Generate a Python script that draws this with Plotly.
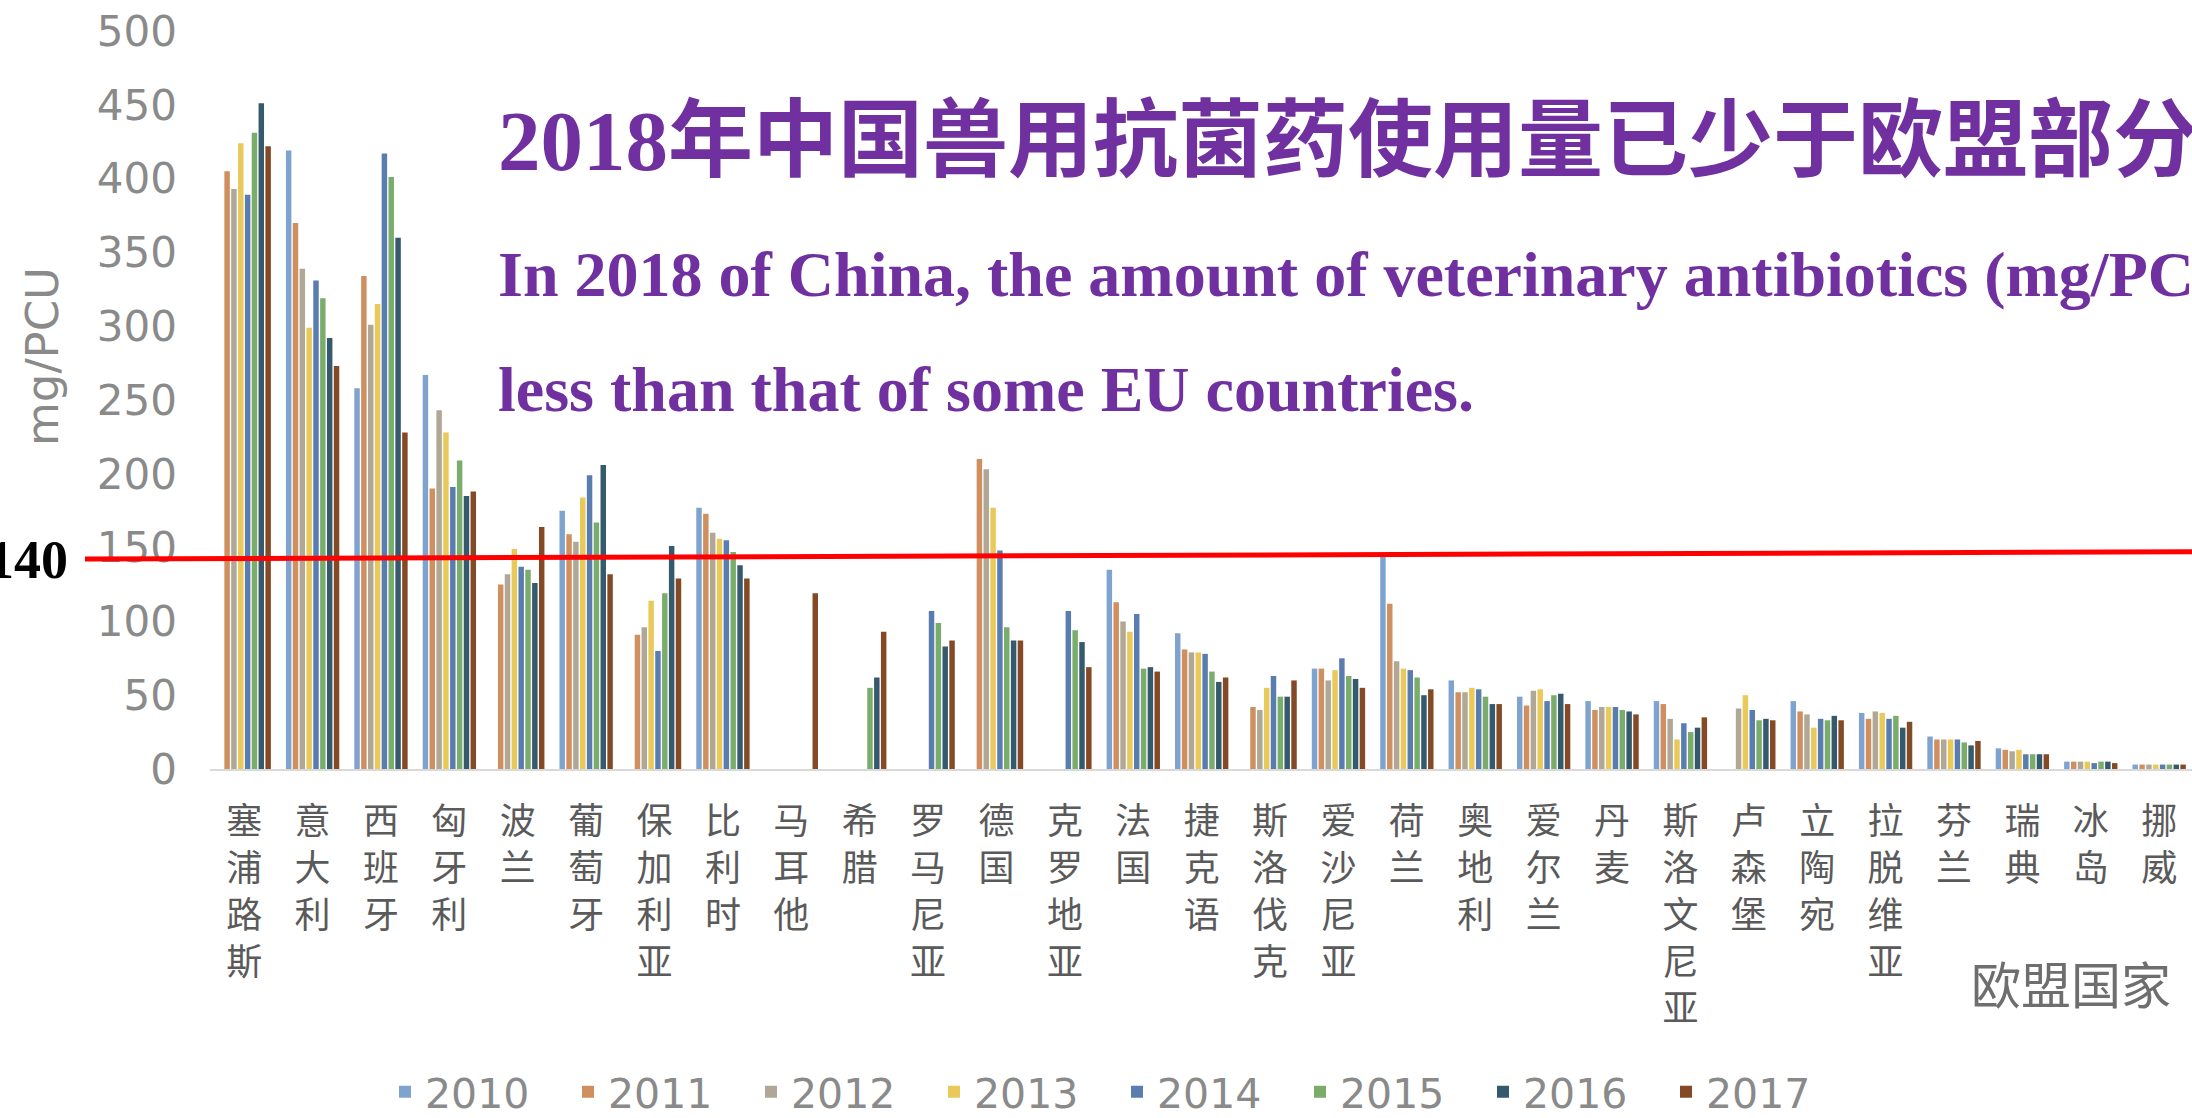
import plotly.graph_objects as go

countries = ["塞浦路斯", "意大利", "西班牙", "匈牙利", "波兰", "葡萄牙", "保加利亚", "比利时",
             "马耳他", "希腊", "罗马尼亚", "德国", "克罗地亚", "法国", "捷克语", "斯洛伐克",
             "爱沙尼亚", "荷兰", "奥地利", "爱尔兰", "丹麦", "斯洛文尼亚", "卢森堡", "立陶宛",
             "拉脱维亚", "芬兰", "瑞典", "冰岛", "挪威"]

years = ["2010", "2011", "2012", "2013", "2014", "2015", "2016", "2017"]

N = None
v2010 = [N, 419, 258, 267, N, 175, N, 177, N, N, N, N, N, 135, 92, N, 68, 146, 60, 49, 46, 46, N, 46, 38, 22, 14, 5, 3]
v2011 = [405, 370, 334, 190, 125, 159, 91, 173, N, N, N, 210, N, 113, 81, 42, 68, 112, 52, 43, 40, 44, N, 39, 34, 20, 13, 5, 3]
v2012 = [393, 339, 301, 243, 132, 154, 96, 160, N, N, N, 203, N, 100, 79, 40, 60, 73, 52, 53, 42, 34, 41, 37, 39, 20, 12, 5, 3]
v2013 = [424, 299, 315, 228, 149, 184, 114, 156, N, N, N, 177, N, 93, 79, 55, 67, 68, 55, 54, 42, 20, 50, 28, 38, 20, 13, 5, 3]
v2014 = [389, 331, 417, 191, 137, 199, 80, 155, N, N, 107, 148, 107, 105, 78, 63, 75, 67, 54, 46, 42, 31, 40, 34, 34, 20, 10, 4, 3]
v2015 = [431, 319, 401, 209, 135, 167, 119, 147, N, 55, 99, 96, 94, 68, 66, 49, 63, 62, 49, 50, 40, 25, 33, 33, 36, 18, 10, 5, 3]
v2016 = [451, 292, 360, 185, 126, 206, 151, 138, N, 62, 83, 87, 86, 69, 59, 49, 61, 50, 44, 51, 39, 28, 34, 36, 28, 16, 10, 5, 3]
v2017 = [422, 273, 228, 188, 164, 132, 129, 129, 119, 93, 87, 87, 69, 66, 62, 60, 55, 54, 44, 44, 37, 35, 33, 33, 32, 19, 10, 4, 3]

series = [v2010, v2011, v2012, v2013, v2014, v2015, v2016, v2017]
colors = ["#7fa3cf", "#d08f5e", "#b0a797", "#e8c95a", "#5a7db0", "#7aad6c", "#355a6e", "#844a26"]

yticks = [0, 50, 100, 150, 200, 250, 300, 350, 400, 450, 500]
threshold_label = "140"

title_cn = "2018年中国兽用抗菌药使用量已少于欧盟部分"
sub1 = "In 2018 of China, the amount of veterinary antibiotics (mg/PC"
sub2 = "less than that of some EU countries."

W, H = 2192, 1118
L, R, T, B = 210, 0, 31, 349
PW, PH = W - L - R, H - T - B


def px(xp):
    return (xp - L) / PW


def py(yp):
    return (H - B - yp) / PH


fig = go.Figure()
for yr, vals, col in zip(years, series, colors):
    fig.add_trace(go.Bar(x=list(range(len(countries))), y=vals, name=yr,
                         marker=dict(color=col, line=dict(width=0))))

ticktext = ["<br>".join(list(c)) for c in countries]

fig.update_layout(
    width=W, height=H,
    margin=dict(l=L, r=R, t=T, b=B, autoexpand=False),
    paper_bgcolor="white", plot_bgcolor="white",
    barmode="group", bargap=0.2, bargroupgap=0.2,
    showlegend=True,
    legend=dict(orientation="h", x=px(385), xanchor="left", y=py(1092), yanchor="middle",
                font=dict(family="DejaVu Sans", size=41, color="#8a8a8a"),
                entrywidth=138, entrywidthmode="pixels", itemclick=False),
    xaxis=dict(range=[-0.5, 28.48], tickmode="array",
               tickvals=list(range(len(countries))), ticktext=ticktext, tickangle=0,
               tickfont=dict(family="Noto Sans CJK SC", size=36, color="#5a5a5a"),
               showline=True, linecolor="#d9d9d9", linewidth=2, showgrid=False,
               ticks="", ticklabelstandoff=20, zeroline=False),
    yaxis=dict(range=[0, 500], tickvals=yticks, showgrid=False, zeroline=False,
               showline=False, ticks="",
               tickfont=dict(family="DejaVu Sans", size=42, color="#8a8a8a"),
               ticklabelstandoff=32),
)

fig.add_shape(type="line", xref="paper", yref="y", x0=px(85), x1=px(2192), y0=142.3, y1=147.2,
              line=dict(color="#ff0000", width=5), layer="above")

ann = []
ann.append(dict(text="<b>" + title_cn + "</b>", x=px(496), y=py(141), xref="paper", yref="paper",
                xanchor="left", yanchor="middle", showarrow=False,
                font=dict(family="Liberation Serif, Noto Sans CJK SC", size=85, color="#7030A0")))
ann.append(dict(text="<b>" + sub1 + "</b>", x=px(496), y=py(274), xref="paper", yref="paper",
                xanchor="left", yanchor="middle", showarrow=False,
                font=dict(family="Liberation Serif", size=64, color="#7030A0")))
ann.append(dict(text="<b>" + sub2 + "</b>", x=px(496), y=py(389), xref="paper", yref="paper",
                xanchor="left", yanchor="middle", showarrow=False,
                font=dict(family="Liberation Serif", size=64, color="#7030A0")))
ann.append(dict(text="<b>" + threshold_label + "</b>", x=px(70), y=py(560), xref="paper", yref="paper",
                xanchor="right", yanchor="middle", showarrow=False,
                font=dict(family="Liberation Serif", size=54, color="#000000")))
ann.append(dict(text="mg/PCU", x=px(43), y=py(357), xref="paper", yref="paper",
                xanchor="center", yanchor="middle", showarrow=False, textangle=-90,
                font=dict(family="DejaVu Sans", size=45, color="#8a8a8a")))
ann.append(dict(text="欧盟国家", x=px(2071), y=py(982), xref="paper", yref="paper",
                xanchor="center", yanchor="middle", showarrow=False,
                font=dict(family="Noto Sans CJK SC", size=50, color="#6e6e6e")))
fig.update_layout(annotations=ann)

fig.write_html("out.html")
